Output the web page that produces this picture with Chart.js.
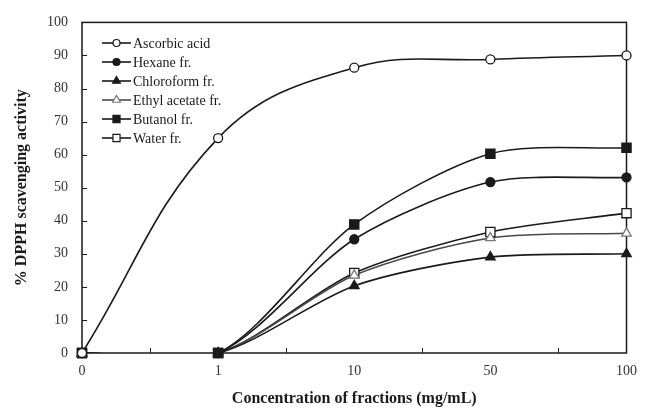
<!DOCTYPE html>
<html>
<head>
<meta charset="utf-8">
<script src="https://cdn.jsdelivr.net/npm/chart.js@4/dist/chart.umd.min.js"></script>
<style>
html,body{margin:0;padding:0;background:#fff;}
#wrap{width:647px;height:410px;}
</style>
</head>
<body>
<div id="wrap"><canvas id="c" width="647" height="410"></canvas></div>
<script>
// ---- data ----
const categories = ['0', '1', '10', '50', '100'];
const ascorbicAcid = [0, 65, 86.3, 88.8, 90];
const hexaneFr = [0, 0, 34.4, 51.7, 53.1];
const chloroformFr = [0, 0, 20.3, 29, 30];
const ethylAcetateFr = [0, 0, 23.5, 34.8, 36.2];
const butanolFr = [0, 0, 38.9, 60.3, 62.1];
const waterFr = [0, 0, 24.2, 36.6, 42.3];
const seriesNames = ['Ascorbic acid', 'Hexane fr.', 'Chloroform fr.', 'Ethyl acetate fr.', 'Butanol fr.', 'Water fr.'];
const yMin = 0, yMax = 100, yStep = 10;
const xTitle = 'Concentration of fractions (mg/mL)';
const yTitle = '% DPPH scavenging activity';

const SERIF = '"Liberation Serif", "Times New Roman", serif';
const INK = '#1a1a1a';

const styles = [
  {data: ascorbicAcid, style: 'circle', r: 4.5, fill: '#fff', stroke: INK, line: INK, lr: 3.5, t: 0.4},
  {data: hexaneFr, style: 'circle', r: 4.5, fill: INK, stroke: INK, line: INK, lr: 3.5, t: 0.28},
  {data: chloroformFr, style: 'triangle', r: 5.5, fill: INK, stroke: INK, line: INK, lr: 4.5, t: 0.28},
  {data: ethylAcetateFr, style: 'triangle', r: 5.5, fill: '#fff', stroke: '#777', line: '#4a4a4a', lr: 4.5, t: 0.28},
  {data: butanolFr, style: 'rect', r: 6.5, fill: INK, stroke: INK, line: INK, lr: 5, t: 0.28},
  {data: waterFr, style: 'rect', r: 6.5, fill: '#fff', stroke: INK, line: INK, lr: 5, t: 0.28}
];

// smooth lines, clipped to plot area
const lineSets = styles.map((s, i) => ({
  label: seriesNames[i], data: s.data,
  borderColor: s.line, borderWidth: 1.6, pointRadius: 0, pointHoverRadius: 0,
  tension: s.t, fill: false, capBezierPoints: false,
  legendStyle: s, order: 2
}));
// markers, not clipped
const pointSets = styles.map((s, i) => ({
  label: seriesNames[i] + ' markers', data: s.data, showLine: false,
  pointStyle: s.style, pointRadius: s.r, pointHoverRadius: s.r,
  pointBackgroundColor: s.fill, pointBorderColor: s.stroke, pointBorderWidth: 1.3,
  borderColor: s.line, clip: false, order: 1
}));

const framePlugin = {
  id: 'frame',
  beforeDatasetsDraw(chart) {
    const {ctx, chartArea: a, scales} = chart;
    ctx.save();
    ctx.strokeStyle = INK;
    ctx.lineWidth = 1.5;
    ctx.strokeRect(a.left, a.top, a.right - a.left, a.bottom - a.top);
    ctx.lineWidth = 1;
    for (let v = yMin; v <= yMax; v += yStep) {
      const y = Math.round(scales.y.getPixelForValue(v)) + 0.5;
      ctx.beginPath(); ctx.moveTo(a.left, y); ctx.lineTo(a.left + 5, y); ctx.stroke();
    }
    for (let i = 0; i < categories.length - 1; i++) {
      const x = Math.round((scales.x.getPixelForValue(i) + scales.x.getPixelForValue(i + 1)) / 2) + 0.5;
      ctx.beginPath(); ctx.moveTo(x, a.bottom); ctx.lineTo(x, a.bottom - 5); ctx.stroke();
    }
    ctx.restore();
  },
  afterDraw(chart) {
    const {ctx} = chart;
    ctx.save();
    const x0 = 102, x1 = 131, tx = 133, y0 = 43, dy = 19;
    ctx.font = '14px ' + SERIF;
    ctx.textBaseline = 'middle';
    ctx.textAlign = 'left';
    chart.data.datasets.filter(d => d.legendStyle).forEach((d, i) => {
      const s = d.legendStyle;
      const y = y0 + i * dy;
      ctx.strokeStyle = s.line;
      ctx.lineWidth = 1.6;
      ctx.beginPath(); ctx.moveTo(x0, y); ctx.lineTo(x1, y); ctx.stroke();
      ctx.fillStyle = s.fill;
      ctx.strokeStyle = s.stroke;
      ctx.lineWidth = 1.2;
      Chart.helpers.drawPoint(ctx, {pointStyle: s.style, radius: s.lr, rotation: 0, borderWidth: 1.2}, (x0 + x1) / 2, y);
      ctx.fillStyle = INK;
      ctx.fillText(d.label, tx, y + 1);
    });
    ctx.restore();
  }
};

new Chart(document.getElementById('c'), {
  type: 'line',
  data: {labels: categories, datasets: [...lineSets, ...pointSets]},
  options: {
    responsive: false,
    animation: false,
    devicePixelRatio: 1,
    layout: {padding: {left: 0, right: 11, top: 22, bottom: 0}},
    plugins: {legend: {display: false}, tooltip: {enabled: false}},
    scales: {
      x: {
        type: 'category',
        offset: false,
        grid: {display: false, drawTicks: false},
        border: {display: false},
        ticks: {color: '#333', font: {family: SERIF, size: 14}, padding: 10, maxRotation: 0, autoSkip: false},
        title: {display: true, text: xTitle, color: INK, font: {family: SERIF, size: 16, weight: 'bold'}, padding: {top: 8, bottom: 2}},
        afterFit(s) { s.height = 57; }
      },
      y: {
        min: yMin, max: yMax,
        grid: {display: false, drawTicks: false},
        border: {display: false},
        ticks: {stepSize: yStep, color: '#333', font: {family: SERIF, size: 14}, padding: 14},
        title: {display: true, text: yTitle, color: INK, font: {family: SERIF, size: 16, weight: 'bold'}, padding: {top: 12, bottom: 4}},
        afterFit(s) { s.width = 82; }
      }
    }
  },
  plugins: [framePlugin]
});
</script>
</body>
</html>
